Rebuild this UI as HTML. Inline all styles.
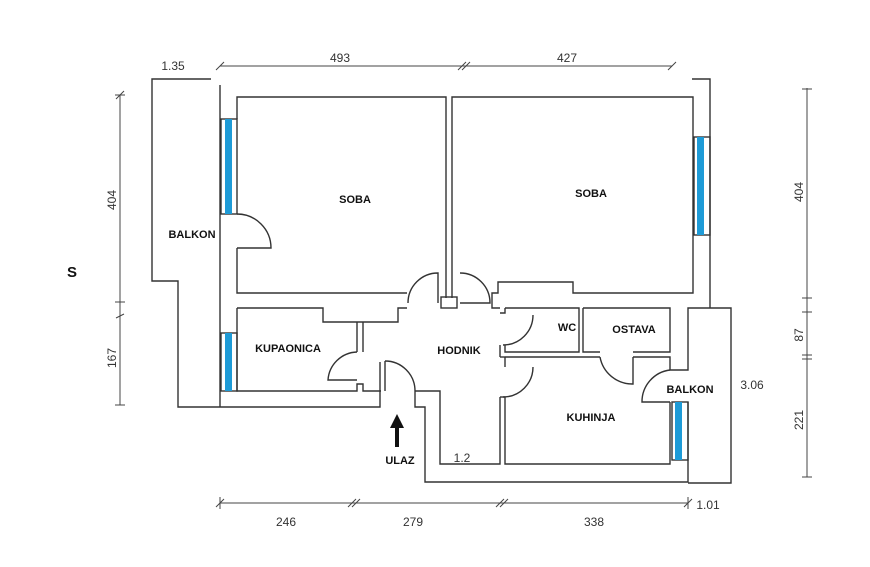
<!DOCTYPE html>
<html><head><meta charset="utf-8"><style>
html,body{margin:0;padding:0;background:#fff;}
svg{display:block;}
text{font-family:"Liberation Sans",sans-serif;}
.b{font-weight:bold;font-size:11px;fill:#111;}
.d{font-size:12px;fill:#333;}
</style></head><body>
<svg width="870" height="567" viewBox="0 0 870 567" xmlns="http://www.w3.org/2000/svg">
<rect width="870" height="567" fill="#fff"/>
<g fill="none" stroke="#333" stroke-width="1.4">
<!-- left balkon -->
<polyline points="211,79 152,79 152,281 178,281 178,407 220,407"/>
<!-- left outer wall -->
<line x1="220" y1="85" x2="220" y2="407"/>
<!-- soba1 -->
<polyline points="237,119 237,97 446,97 446,298"/>
<polyline points="237,248 237,293 407,293"/>
<line x1="237" y1="214" x2="237" y2="214"/>
<!-- soba2 -->
<polyline points="452,298 452,97 693,97 693,293 573,293 573,282 498,282 498,293 492,293 492,308 500,308"/>
<polyline points="692,79 710,79 710,308"/>
<!-- pier between doors -->
<rect x="441" y="297" width="16" height="11"/>
<!-- corridor wall / kupaonica -->
<polyline points="237,308 323,308 323,322 398,322 398,308 407,308"/>
<polyline points="357,322 357,352"/>
<polyline points="363,322 363,352"/>
<polyline points="237,308 237,391 357,391 357,384 363,384 363,391 381,391"/>
<polyline points="220,407 380,407 380,362"/>
<!-- entrance -->
<polyline points="415,391 415,407 425,407 425,482 688,482 688,460"/>
<polyline points="415,391 440,391 440,464 500,464 500,397"/>
<!-- WC / ostava / kitchen -->
<polyline points="505,308 579,308 579,352 505,352 505,345"/>
<polyline points="500,313 505,313 505,308"/>
<polyline points="583,308 670,308 670,352 633,352"/>
<polyline points="583,308 583,352 600,352"/>
<polyline points="505,357 600,357"/>
<polyline points="633,357 670,357 670,370 688,370 688,308 731,308 731,483 688,483"/>
<polyline points="505,367 505,357"/>
<polyline points="505,397 505,464 670,464 670,402"/>
<line x1="688" y1="402" x2="688" y2="460"/>
<line x1="500" y1="345" x2="500" y2="357"/>
<line x1="500" y1="357" x2="505" y2="357"/>
<line x1="500" y1="397" x2="505" y2="397"/>
<!-- doors arcs -->
<path d="M237,214 A34,34 0 0 1 271,248 L237,248"/>
<path d="M408,303 A30,30 0 0 1 438,273 L438,303"/>
<path d="M460,273 A30,30 0 0 1 490,303 L460,303"/>
<path d="M533,315 A30,30 0 0 1 503,345"/>
<path d="M533,367 A30,30 0 0 1 503,397"/>
<path d="M357,352 A30,30 0 0 0 328,380 L357,380"/>
<path d="M385,361 A30,30 0 0 1 415,391 L415,391"/>
<line x1="385" y1="361" x2="385" y2="391"/>
<path d="M600,357 A33,33 0 0 0 633,384 L633,357"/>
<path d="M670,370 A32,32 0 0 0 642,402 L670,402"/>
<!-- window frames -->
<rect x="221" y="119" width="16" height="95"/>
<rect x="221" y="333" width="16" height="58"/>
<rect x="694" y="137" width="16" height="98"/>
<rect x="672" y="402" width="16" height="58"/>
</g>
<g fill="#1e9bd7">
<rect x="225" y="119" width="7" height="95"/>
<rect x="225" y="333" width="7" height="58"/>
<rect x="697" y="137" width="7" height="98"/>
<rect x="675" y="402" width="7" height="58"/>
</g>
<!-- dimension lines -->
<g stroke="#444" stroke-width="1" fill="none">
<line x1="220" y1="66" x2="672" y2="66"/>
<line x1="216" y1="70" x2="224" y2="62"/><line x1="458" y1="70" x2="466" y2="62"/><line x1="462" y1="70" x2="470" y2="62"/><line x1="668" y1="70" x2="676" y2="62"/>
<line x1="120" y1="95" x2="120" y2="405"/>
<line x1="115" y1="95" x2="125" y2="95"/><line x1="116" y1="99" x2="124" y2="91"/>
<line x1="115" y1="302" x2="125" y2="302"/><line x1="116" y1="318" x2="124" y2="314"/>
<line x1="115" y1="405" x2="125" y2="405"/>
<line x1="807" y1="88" x2="807" y2="477"/>
<line x1="802" y1="89" x2="812" y2="89"/><line x1="802" y1="298" x2="812" y2="298"/><line x1="802" y1="312" x2="812" y2="312"/><line x1="802" y1="355" x2="812" y2="355"/><line x1="802" y1="359" x2="812" y2="359"/><line x1="802" y1="477" x2="812" y2="477"/>
<line x1="220" y1="503" x2="688" y2="503"/>
<line x1="216" y1="507" x2="224" y2="499"/><line x1="348" y1="507" x2="356" y2="499"/><line x1="352" y1="507" x2="360" y2="499"/><line x1="496" y1="507" x2="504" y2="499"/><line x1="500" y1="507" x2="508" y2="499"/><line x1="684" y1="507" x2="692" y2="499"/>
<line x1="220" y1="497" x2="220" y2="509"/><line x1="688" y1="497" x2="688" y2="509"/>
</g>
<!-- arrow -->
<polygon points="397,414 390,428 395,428 395,447 399,447 399,428 404,428" fill="#111"/>
<!-- labels -->
<text class="b" x="355" y="203" text-anchor="middle">SOBA</text>
<text class="b" x="591" y="197" text-anchor="middle">SOBA</text>
<text class="b" x="192" y="238" text-anchor="middle">BALKON</text>
<text class="b" x="288" y="352" text-anchor="middle">KUPAONICA</text>
<text class="b" x="459" y="354" text-anchor="middle">HODNIK</text>
<text class="b" x="567" y="331" text-anchor="middle">WC</text>
<text class="b" x="634" y="333" text-anchor="middle">OSTAVA</text>
<text class="b" x="690" y="393" text-anchor="middle">BALKON</text>
<text class="b" x="591" y="421" text-anchor="middle">KUHINJA</text>
<text class="b" x="400" y="464" text-anchor="middle">ULAZ</text>
<text x="72" y="277" text-anchor="middle" style="font-weight:bold;font-size:15px;fill:#111">S</text>
<text class="d" x="173" y="70" text-anchor="middle">1.35</text>
<text class="d" x="340" y="62" text-anchor="middle">493</text>
<text class="d" x="567" y="62" text-anchor="middle">427</text>
<text class="d" x="752" y="389" text-anchor="middle">3.06</text>
<text class="d" x="462" y="462" text-anchor="middle">1.2</text>
<text class="d" x="708" y="509" text-anchor="middle">1.01</text>
<text class="d" x="286" y="526" text-anchor="middle">246</text>
<text class="d" x="413" y="526" text-anchor="middle">279</text>
<text class="d" x="594" y="526" text-anchor="middle">338</text>
<text class="d" transform="translate(116,200) rotate(-90)" text-anchor="middle">404</text>
<text class="d" transform="translate(116,358) rotate(-90)" text-anchor="middle">167</text>
<text class="d" transform="translate(803,192) rotate(-90)" text-anchor="middle">404</text>
<text class="d" transform="translate(803,335) rotate(-90)" text-anchor="middle">87</text>
<text class="d" transform="translate(803,420) rotate(-90)" text-anchor="middle">221</text>
</svg>
</body></html>
